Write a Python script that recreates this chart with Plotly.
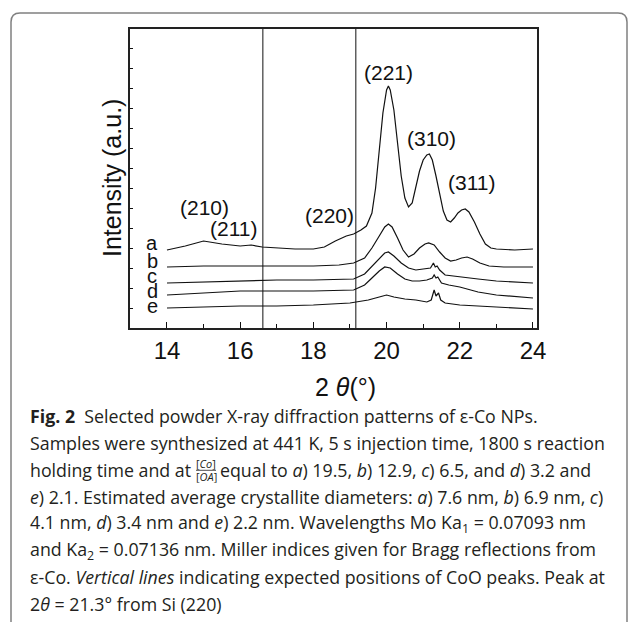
import plotly.graph_objects as go

# ---------------- data ----------------
a_x = [14.0, 14.5, 15.0, 15.5, 16.0, 16.3, 16.6, 17.0, 17.5, 18.0, 18.3, 18.6, 18.9, 19.1, 19.3, 19.45,
       19.6, 19.7, 19.8, 19.9, 20.0, 20.05, 20.1, 20.2, 20.3, 20.4, 20.5, 20.6, 20.7, 20.8, 20.9, 21.0,
       21.1, 21.17, 21.25, 21.35, 21.45, 21.55, 21.65, 21.75, 21.85, 21.95, 22.05, 22.15, 22.25, 22.4,
       22.55, 22.7, 22.85, 23.0, 23.5, 24.0]
a_y = [78, 82, 87, 84, 82, 83, 81, 80, 79, 79, 81, 87, 92, 94, 98, 102,
       115, 140, 175, 215, 238, 242, 238, 218, 185, 152, 130, 121, 125, 140, 157, 168,
       173, 174, 168, 152, 133, 117, 108, 106, 110, 115, 118, 119, 116, 106,
       94, 84, 80, 79, 78, 79]

b_x = [14.0, 15.0, 16.0, 17.0, 18.0, 18.7, 19.1, 19.4, 19.6, 19.8, 19.95, 20.05, 20.15, 20.3, 20.45,
       20.6, 20.75, 20.9, 21.05, 21.15, 21.3, 21.45, 21.6, 21.75, 21.9, 22.05, 22.2, 22.35, 22.55,
       22.8, 23.2, 24.0]
b_y = [61, 62, 62, 62, 62, 63, 65, 70, 80, 92, 101, 104, 101, 90, 78,
       71, 74, 80, 84, 85, 83, 76, 70, 67, 68, 70, 71, 69, 65,
       62, 61, 61]

c_x = [14.0, 15.0, 16.0, 17.0, 18.0, 19.1, 19.4, 19.6, 19.8, 19.95, 20.05, 20.2, 20.4, 20.6, 20.8,
       21.0, 21.2, 21.28, 21.33, 21.38, 21.45, 21.6, 21.8, 22.0, 22.5, 23.0, 24.0]
c_y = [45, 46, 47, 48, 48, 49, 54, 62, 70, 75, 76, 72, 65, 60, 58,
       59, 60, 65, 61, 62, 58, 53, 52, 51, 49, 47, 45]

d_x = [14.0, 15.0, 16.0, 17.0, 18.0, 19.1, 19.4, 19.6, 19.8, 19.95, 20.1, 20.3, 20.5, 20.7, 20.9,
       21.1, 21.25, 21.3, 21.35, 21.4, 21.5, 21.7, 22.0, 22.5, 23.0, 24.0]
d_y = [33, 35, 37, 37, 37, 38, 43, 50, 57, 61, 60, 54, 49, 47, 47,
       48, 50, 53, 50, 51, 45, 43, 41, 36, 33, 30]

e_x = [14.0, 15.0, 16.0, 17.0, 18.0, 19.0, 19.5, 19.8, 20.0, 20.2, 20.5, 20.8, 21.1, 21.22, 21.3,
       21.35, 21.42, 21.48, 21.6, 22.0, 23.0, 24.0]
e_y = [20, 21, 22, 22, 23, 25, 28, 31, 33, 31, 29, 28, 26, 28, 38,
       32, 35, 28, 25, 23, 21, 19]

series = [("a", a_x, a_y), ("b", b_x, b_y), ("c", c_x, c_y), ("d", d_x, d_y), ("e", e_x, e_y)]

# curve labels (letters at left)
letter_names = ["a", "b", "c", "d", "e"]
letter_y = [85, 67, 52, 37, 22]

# Miller index labels
miller_text = ["(210)", "(211)", "(220)", "(221)", "(310)", "(311)"]
miller_x = [15.03, 15.83, 18.43, 20.06, 21.24, 22.33]
miller_y = [121, 100, 113, 256, 190, 146]

# CoO expected peak positions
coo_lines = [16.62, 19.16]

x_major = [14, 16, 18, 20, 22, 24]
x_minor = [15, 17, 19, 21, 23]

caption_lines = [
    "<b>Fig. 2</b>  Selected powder X-ray diffraction patterns of ε-Co NPs.",
    "Samples were synthesized at 441 K, 5 s injection time, 1800 s reaction",
    "holding time and at",
    "<i>e</i>) 2.1. Estimated average crystallite diameters: <i>a</i>) 7.6 nm, <i>b</i>) 6.9 nm, <i>c</i>)",
    "4.1 nm, <i>d</i>) 3.4 nm and <i>e</i>) 2.2 nm. Wavelengths Mo Ka<sub>1</sub> = 0.07093 nm",
    "and Ka<sub>2</sub> = 0.07136 nm. Miller indices given for Bragg reflections from",
    "ε-Co. <i>Vertical lines</i> indicating expected positions of CoO peaks. Peak at",
    "2<i>θ</i> = 21.3° from Si (220)",
]
line3_rest = "equal to <i>a</i>) 19.5, <i>b</i>) 12.9, <i>c</i>) 6.5, and <i>d</i>) 3.2 and"

# ---------------- layout geometry (pixels) ----------------
W, H = 629, 622
L, R, T, B = 130, 537, 29, 328
PW, PH = R - L, B - T


def px(x):
    return (x - L) / PW


def py(y):
    return (B - y) / PH


fig = go.Figure()
for name, xs, ys in series:
    fig.add_trace(go.Scatter(x=xs, y=ys, mode="lines", name=name,
                             line=dict(color="#111111", width=1.2), showlegend=False,
                             hoverinfo="skip"))

shapes = []
for xv in coo_lines:
    shapes.append(dict(type="line", xref="x", yref="paper", x0=xv, x1=xv, y0=0, y1=1,
                       line=dict(color="#111111", width=1)))

# outer rounded frame
fx0, fx1, fy0, fy1, r = 11, 627, 13, 640, 9
path = (f"M {px(fx0)},{py(fy1)} L {px(fx0)},{py(fy0 + r)} "
        f"Q {px(fx0)},{py(fy0)} {px(fx0 + r)},{py(fy0)} "
        f"L {px(fx1 - r)},{py(fy0)} Q {px(fx1)},{py(fy0)} {px(fx1)},{py(fy0 + r)} "
        f"L {px(fx1)},{py(fy1)}")
shapes.append(dict(type="path", xref="paper", yref="paper", path=path,
                   line=dict(color="#808080", width=1.5)))

ann = []
for t, xv, yv in zip(miller_text, miller_x, miller_y):
    ann.append(dict(text=t, x=xv, y=yv, xref="x", yref="y", showarrow=False,
                    xanchor="center", yanchor="middle",
                    font=dict(family="Liberation Sans, Arial", size=21, color="#111111")))
for t, yv in zip(letter_names, letter_y):
    ann.append(dict(text=t, x=px(152), y=yv, xref="paper", yref="y", showarrow=False,
                    xanchor="center", yanchor="middle",
                    font=dict(family="Liberation Sans, Arial", size=20, color="#111111")))

# axis titles
ann.append(dict(text="Intensity (a.u.)", x=px(112), y=py(178), xref="paper", yref="paper",
                showarrow=False, textangle=-90, xanchor="center", yanchor="middle",
                font=dict(family="Liberation Sans, Arial", size=25, color="#111111")))
ann.append(dict(text="2 <i>θ</i>(°)", x=px(313), y=py(387), xref="paper", yref="paper",
                showarrow=False, xanchor="left", yanchor="middle",
                font=dict(family="Liberation Sans, Arial", size=25, color="#111111")))

# caption
CAP = 17.8
cap_font = dict(family="Open Sans", size=CAP, color="#231f20")
cap_y0, cap_dy = 416, 26.9
for i, t in enumerate(caption_lines):
    ann.append(dict(text=t, x=px(28), y=py(cap_y0 + i * cap_dy), xref="paper", yref="paper",
                    showarrow=False, xanchor="left", yanchor="middle", font=cap_font))
# fraction [Co]/[OA] on line 3
y3 = cap_y0 + 2 * cap_dy
fcx = 206
ann.append(dict(text="[<i>Co</i>]", x=px(fcx), y=py(y3 - 6), xref="paper", yref="paper",
                showarrow=False, xanchor="center", yanchor="middle",
                font=dict(family="Open Sans", size=11, color="#231f20")))
ann.append(dict(text="[<i>OA</i>]", x=px(fcx), y=py(y3 + 7), xref="paper", yref="paper",
                showarrow=False, xanchor="center", yanchor="middle",
                font=dict(family="Open Sans", size=11, color="#231f20")))
shapes.append(dict(type="line", xref="paper", yref="paper", x0=px(fcx - 10), x1=px(fcx + 10),
                   y0=py(y3 + 0.5), y1=py(y3 + 0.5), line=dict(color="#231f20", width=0.8)))
ann.append(dict(text=line3_rest, x=px(fcx + 12), y=py(y3), xref="paper", yref="paper",
                showarrow=False, xanchor="left", yanchor="middle", font=cap_font))

fig.update_layout(
    width=W, height=H, template="none",
    paper_bgcolor="white", plot_bgcolor="white",
    margin=dict(l=L, r=W - R, t=T, b=H - B, autoexpand=False),
    shapes=shapes, annotations=ann, showlegend=False,
    xaxis=dict(range=[12.99, 24.11], tickvals=x_major, ticktext=[str(v) for v in x_major],
               ticks="inside", ticklen=6, tickwidth=1.2, tickcolor="#111111",
               minor=dict(tickvals=x_minor, ticks="inside", ticklen=4, tickwidth=1.2,
                          tickcolor="#111111"),
               showline=True, linecolor="#222222", linewidth=1.5, mirror=True,
               showgrid=False, zeroline=False, automargin=False,
               tickfont=dict(family="Liberation Sans, Arial", size=24, color="#111111"),
               ticklabelstandoff=0),
    yaxis=dict(range=[0, 299], tick0=0, dtick=20, ticks="inside", ticklen=3, tickwidth=1,
               tickcolor="#111111", showticklabels=False,
               showline=True, linecolor="#222222", linewidth=1.5, mirror=True,
               showgrid=False, zeroline=False, automargin=False),
)

fig.write_html("out.html")
